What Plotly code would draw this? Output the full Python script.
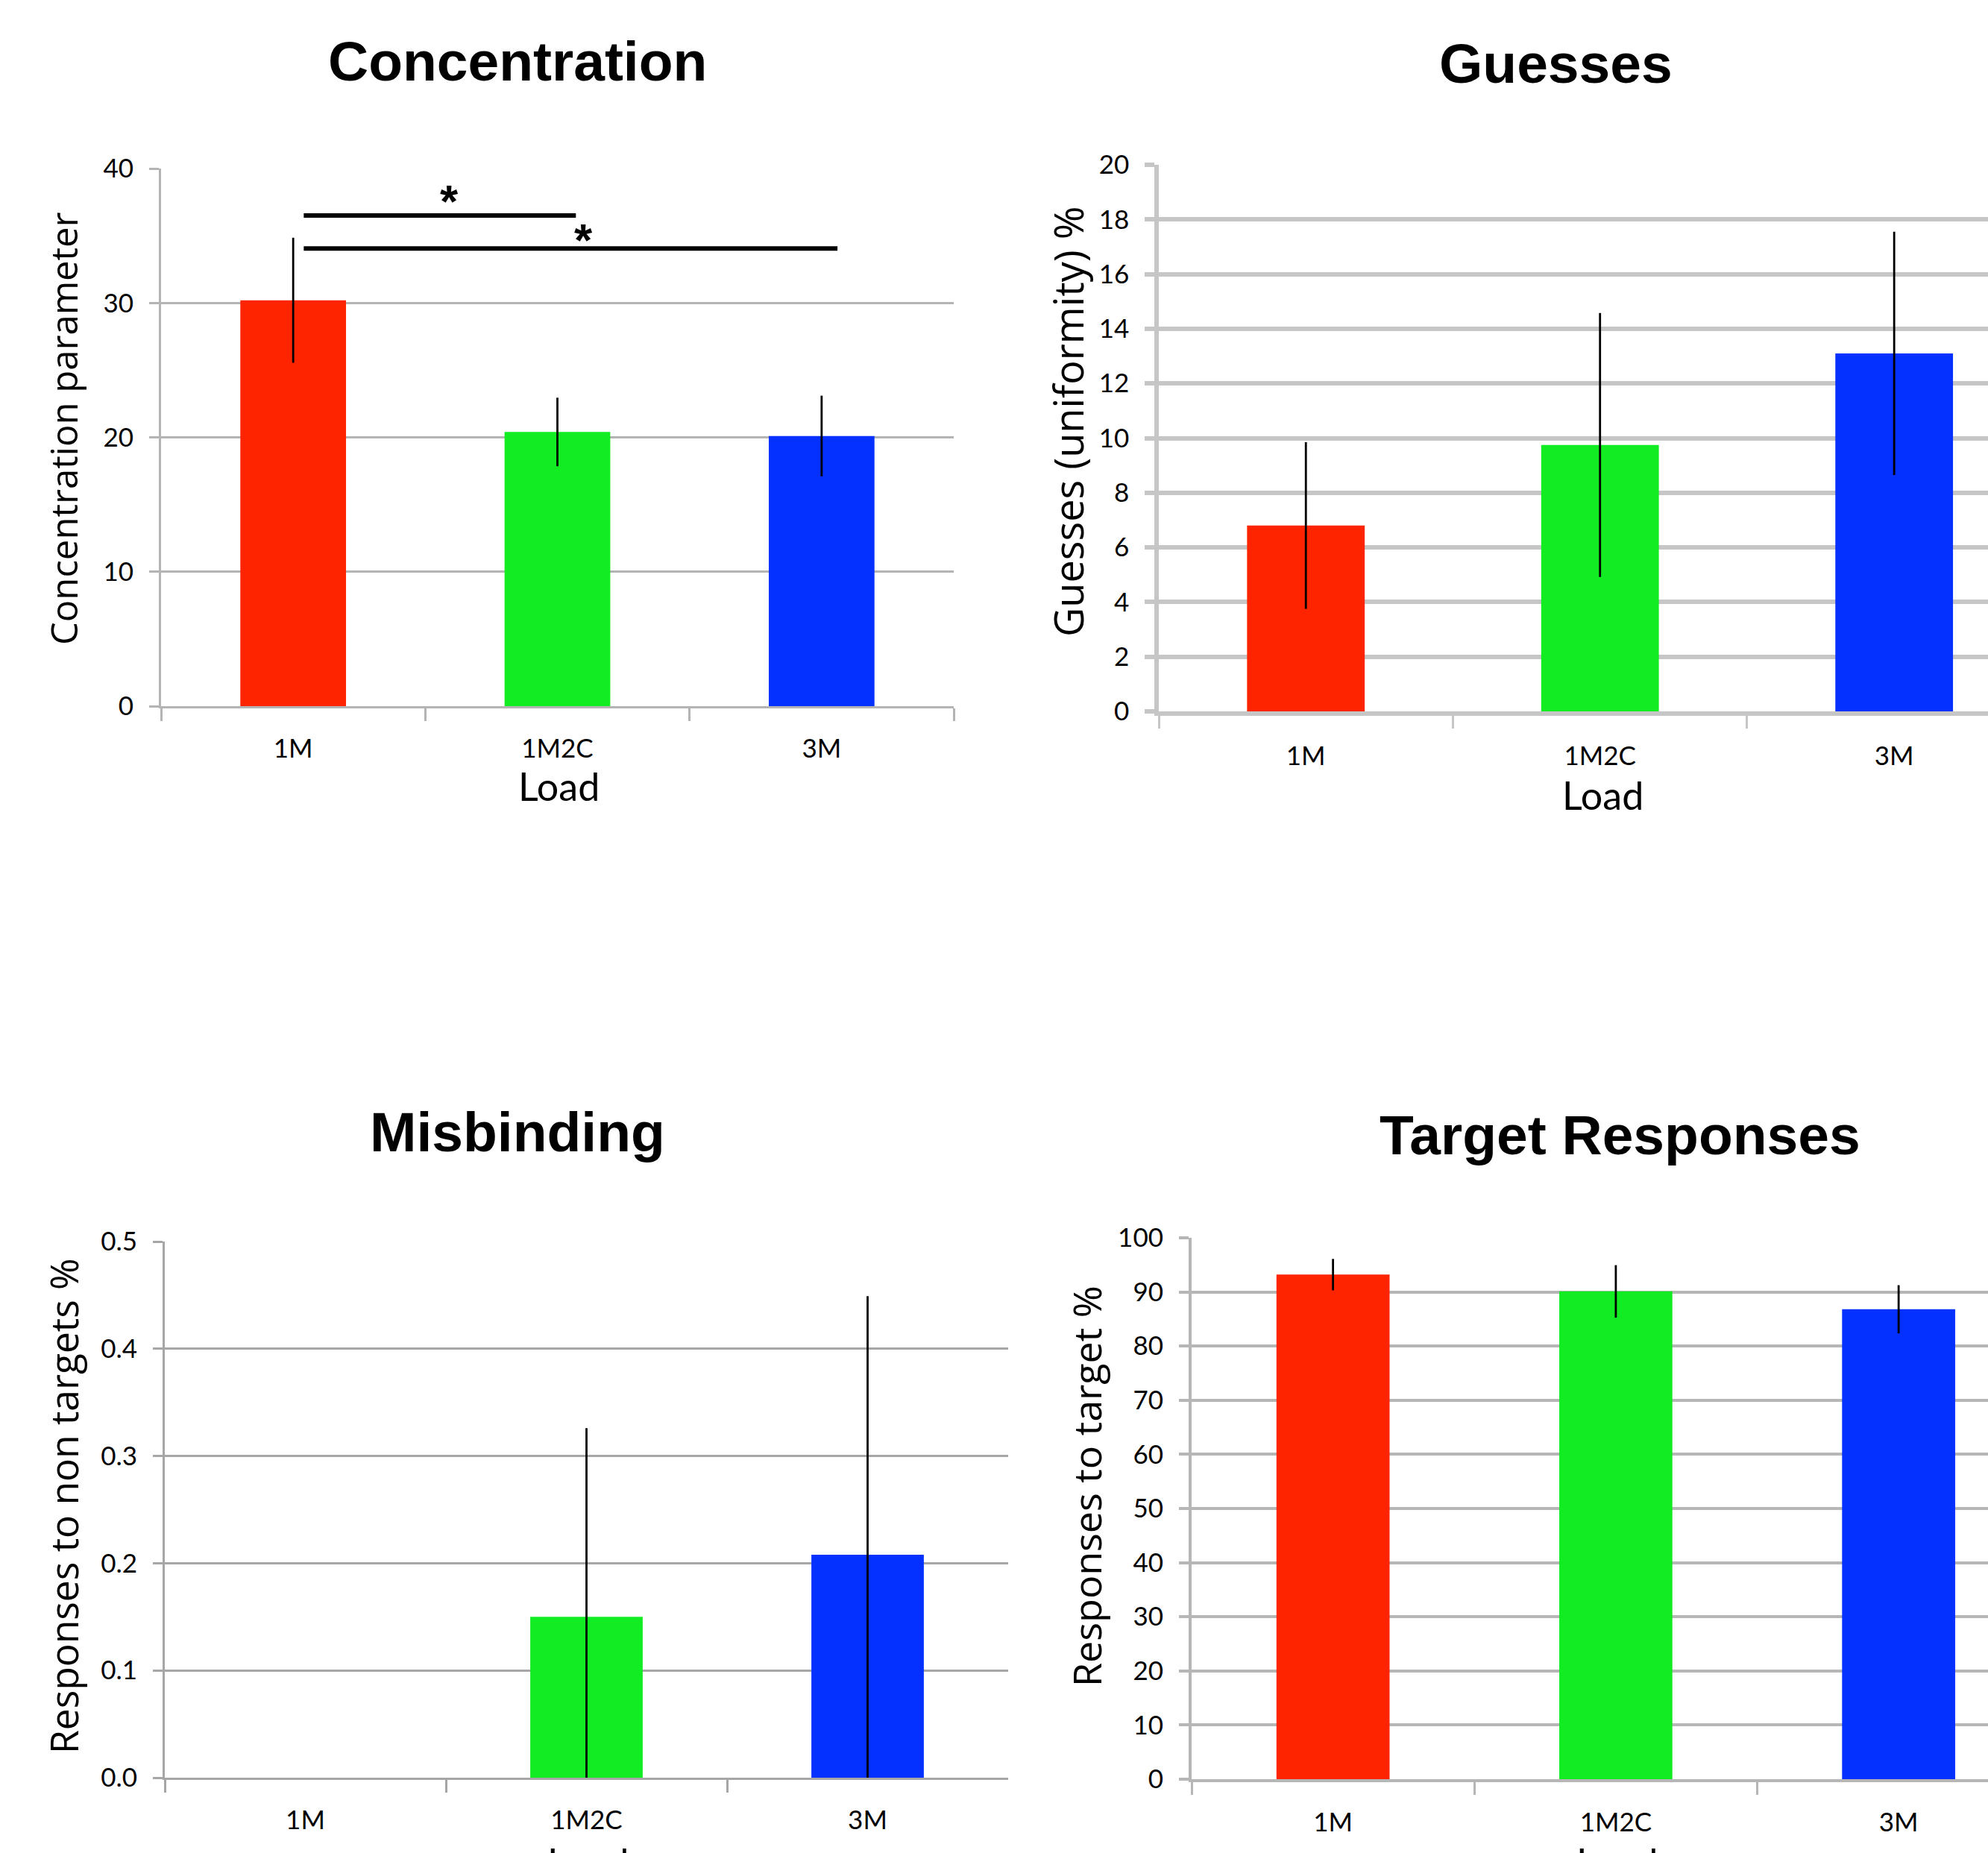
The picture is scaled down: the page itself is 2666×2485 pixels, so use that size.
import plotly.graph_objects as go

# Load conditions shared by all four panels
loads = ["1M", "1M2C", "3M"]
bar_colors = ["#ff2400", "#12ec22", "#0431ff"]

# Concentration parameter (mean, SE)
conc_mean = [30.2, 20.4, 20.1]
conc_err = [4.65, 2.55, 3.0]

# Guesses (uniformity) %
guess_mean = [6.8, 9.75, 13.1]
guess_err = [3.05, 4.83, 4.45]

# Misbinding: responses to non targets %
misb_mean = [0.0, 0.15, 0.208]
misb_err = [0.0, 0.176, 0.241]

# Target responses %
target_mean = [93.2, 90.1, 86.8]
target_err = [2.9, 4.85, 4.45]

# Significance brackets on the concentration panel
sig_x0 = [0.04, 0.04]
sig_x1 = [1.07, 2.06]
sig_y = [36.5, 34.05]
star_x = [0.59, 1.10]
star_y = [37.6, 34.7]

W, H = 2666, 2485

def px_x(p):
    return p / W

def px_y(p):
    return 1 - p / H

TICK_FONT = dict(family="Lato, Open Sans, sans-serif", size=35, color="black")

panels = [
    dict(mean=conc_mean, err=conc_err, yr=[0, 40], dtick=10, fmt="d",
         xd=(216, 1279), yd=(226, 947), xmax=2.5, gw=3, gc="#b4b4b4"),
    dict(mean=guess_mean, err=guess_err, yr=[0, 20], dtick=2, fmt="d",
         xd=(1554, 2666), yd=(221, 954), xmax=2.319, gw=5.5, gc="#c6c6c6"),
    dict(mean=misb_mean, err=misb_err, yr=[0, 0.5], dtick=0.1, fmt=".1f",
         xd=(221, 1352), yd=(1665, 2384), xmax=2.5, gw=3, gc="#a6a6a6"),
    dict(mean=target_mean, err=target_err, yr=[0, 100], dtick=10, fmt="d",
         xd=(1598, 2666), yd=(1660, 2386), xmax=2.316, gw=4, gc="#b6b6b6"),
]

fig = go.Figure()
layout = dict(
    template="none",
    width=W, height=H,
    margin=dict(l=0, r=0, t=0, b=0, pad=0, autoexpand=False),
    paper_bgcolor="white", plot_bgcolor="white",
    showlegend=False,
)

for i, p in enumerate(panels):
    n = "" if i == 0 else str(i + 1)
    minus = [min(e, m) for e, m in zip(p["err"], p["mean"])]
    fig.add_trace(go.Bar(
        x=loads, y=p["mean"],
        marker=dict(color=bar_colors, line=dict(width=0)),
        width=0.4,
        error_y=dict(type="data", array=p["err"], arrayminus=minus,
                     color="black", thickness=2.8, width=0, visible=True),
        xaxis="x" + n, yaxis="y" + n,
    ))
    layout["xaxis" + n] = dict(
        domain=[px_x(p["xd"][0]), px_x(p["xd"][1])],
        anchor="y" + n,
        type="category",
        range=[-0.5, p["xmax"]],
        automargin=False,
        showgrid=False, zeroline=False,
        showline=True, linecolor=p["gc"], linewidth=p["gw"],
        ticks="outside", tickson="boundaries", ticklen=17, tickwidth=2.5,
        tickcolor=p["gc"],
        tickfont=TICK_FONT,
        ticklabelstandoff=24,
        fixedrange=True,
    )
    layout["yaxis" + n] = dict(
        domain=[px_y(p["yd"][1]), px_y(p["yd"][0])],
        anchor="x" + n,
        range=p["yr"], dtick=p["dtick"], tickformat=p["fmt"],
        automargin=False,
        showgrid=True, gridcolor=p["gc"], gridwidth=p["gw"],
        zeroline=False,
        showline=True, linecolor=p["gc"], linewidth=p["gw"],
        ticks="outside", ticklen=13, tickwidth=p["gw"], tickcolor=p["gc"],
        tickfont=TICK_FONT,
        ticklabelstandoff=14,
        fixedrange=True,
    )

shapes = []
for x0, x1, y in zip(sig_x0, sig_x1, sig_y):
    shapes.append(dict(type="line", xref="x", yref="y", x0=x0, x1=x1, y0=y, y1=y,
                       line=dict(color="black", width=6)))
layout["shapes"] = shapes

TITLE_FONT = dict(family="Liberation Sans, Arial, sans-serif", size=75, color="black")
LOAD_FONT = dict(family="Lato, sans-serif", size=52, color="black")

ann = []
titles = [
    ("<b>Concentration</b>", 694, 82),
    ("<b>Guesses</b>", 2086, 85),
    ("<b>Misbinding</b>", 694, 1518),
    ("<b>Target Responses</b>", 2172, 1522),
]
for t, x, y in titles:
    ann.append(dict(text=t, x=px_x(x), y=px_y(y), xref="paper", yref="paper",
                    showarrow=False, xanchor="center", yanchor="middle", font=TITLE_FONT))

ytitles = [
    ("Concentration parameter", 85, 575, 49),
    ("Guesses (uniformity) %", 1432, 566, 54),
    ("Responses to non targets %", 85, 2020, 51.5),
    ("Responses to target %", 1457, 1993, 52),
]
for t, x, y, s in ytitles:
    ann.append(dict(text=t, x=px_x(x), y=px_y(y), xref="paper", yref="paper",
                    showarrow=False, textangle=-90, xanchor="center", yanchor="middle",
                    font=dict(family="Open Sans, sans-serif", size=s, color="black")))

load_pos = [(750, 1054), (2149, 1066), (789, 2497), (2168, 2497)]
for x, y in load_pos:
    ann.append(dict(text="Load", x=px_x(x), y=px_y(y), xref="paper", yref="paper",
                    showarrow=False, xanchor="center", yanchor="middle", font=LOAD_FONT))

for x, y in zip(star_x, star_y):
    ann.append(dict(text="<b>*</b>", x=x, y=y, xref="x", yref="y", showarrow=False,
                    xanchor="center", yanchor="middle",
                    font=dict(family="Liberation Sans, Arial, sans-serif", size=62, color="black")))

layout["annotations"] = ann
fig.update_layout(**layout)

fig.write_html("out.html", config={"displayModeBar": False})
